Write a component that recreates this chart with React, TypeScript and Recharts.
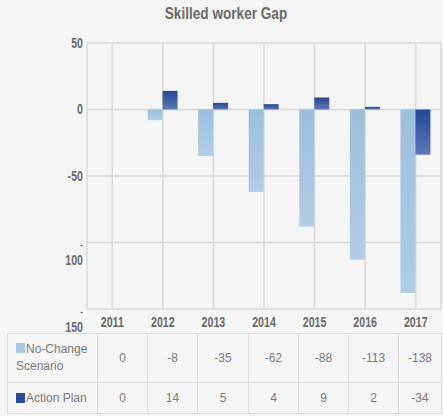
import { Bar, BarChart, CartesianGrid, XAxis, YAxis } from 'recharts';

const years = ['2011', '2012', '2013', '2014', '2015', '2016', '2017'];
const noChange = [0, -8, -35, -62, -88, -113, -138];
const actionPlan = [0, 14, 5, 4, 9, 2, -34];
const yTicks = [50, 0, -50, -100, -150];

const data = years.map((year, i) => ({ year, noChange: noChange[i], actionPlan: actionPlan[i] }));

const sans = "'Liberation Sans', Arial, sans-serif";
const tickStyle = { fontFamily: sans, fontWeight: 700, fontSize: 14, fill: '#6a6a6a' };
const squeeze = 0.76;

// narrow bold label, squeezed horizontally around its anchor point
function Narrow({ x, y, anchor, children, size }: any) {
  return (
    <g transform={`translate(${x},${y}) scale(${squeeze},1)`}>
      <text x={0} y={0} dy="0.35em" textAnchor={anchor} style={{ ...tickStyle, fontSize: size ?? 14 }}>{children}</text>
    </g>
  );
}

function YTick({ x, y, payload }: any) {
  const v = payload.value as number;
  const tx = x + 4;
  if (v <= -100) {
    return (
      <g>
        <Narrow x={tx} y={y + 2} anchor="end" size={11}>-</Narrow>
        <Narrow x={tx} y={y + 18} anchor="end">{Math.abs(v)}</Narrow>
      </g>
    );
  }
  return <Narrow x={tx} y={y} anchor="end">{v}</Narrow>;
}

function XTick({ x, y, payload }: any) {
  return <Narrow x={x} y={y + 5} anchor="middle">{payload.value}</Narrow>;
}

const colWidths = [90, 50, 50, 51, 50, 50, 50, 43];
const cell = { border: '1px solid #dcdcdc', padding: 0, textAlign: 'center' as const, color: '#7a7a7a' };

function Swatch({ color }: { color: string }) {
  return <span style={{ display: 'inline-block', width: 9, height: 10, background: color, marginRight: 1, verticalAlign: 'top', marginTop: 2 }} />;
}

export default function App() {
  return (
    <div style={{ position: 'fixed', left: 0, top: 0, width: 443, height: 416, background: '#f5f5f5', overflow: 'hidden' }}>
      <div style={{ position: 'absolute', left: 0, top: 4, width: 452, textAlign: 'center', fontFamily: sans, fontWeight: 700, fontSize: 17, color: '#6a6a6a', transform: 'scaleX(0.8)' }}>
        Skilled worker Gap
      </div>
      <BarChart width={443} height={335} data={data} margin={{ top: 43, right: 2, left: 0, bottom: 0 }} barGap={0} barSize={15}>
        <defs>
          <linearGradient id="lightGrad" x1="0" y1="0" x2="0" y2="1">
            <stop offset="0%" stopColor="#9dbedb" />
            <stop offset="100%" stopColor="#b2cde5" />
          </linearGradient>
          <linearGradient id="darkGrad" x1="0" y1="0" x2="0" y2="1">
            <stop offset="0%" stopColor="#274794" />
            <stop offset="100%" stopColor="#5d78b8" />
          </linearGradient>
        </defs>
        <CartesianGrid stroke="#d8d8d8" strokeWidth={1.5} />
        <XAxis dataKey="year" tickLine={false} axisLine={false} tick={<XTick />} height={26} interval={0} />
        <YAxis domain={[-150, 50]} ticks={yTicks} width={87} tickLine={false} axisLine={false} tick={<YTick />} interval={0} />
        <Bar dataKey="noChange" fill="url(#lightGrad)" isAnimationActive={false} />
        <Bar dataKey="actionPlan" fill="url(#darkGrad)" isAnimationActive={false} />
      </BarChart>
      <table style={{ position: 'absolute', left: 7, top: 333, borderCollapse: 'collapse', tableLayout: 'fixed', fontFamily: sans, fontSize: 12 }}>
        <colgroup>
          {colWidths.map((w, i) => <col key={i} style={{ width: w }} />)}
        </colgroup>
        <tbody>
          <tr style={{ height: 49 }}>
            <td style={{ ...cell, textAlign: 'left', paddingLeft: 8, lineHeight: '17px' }}>
              <Swatch color="#a8c9e5" />No-Change<br />Scenario
            </td>
            {noChange.map((v, i) => <td key={i} style={cell}>{v}</td>)}
          </tr>
          <tr style={{ height: 31 }}>
            <td style={{ ...cell, textAlign: 'left', paddingLeft: 8 }}>
              <Swatch color="#2a4b9b" />Action Plan
            </td>
            {actionPlan.map((v, i) => <td key={i} style={cell}>{v}</td>)}
          </tr>
        </tbody>
      </table>
    </div>
  );
}
